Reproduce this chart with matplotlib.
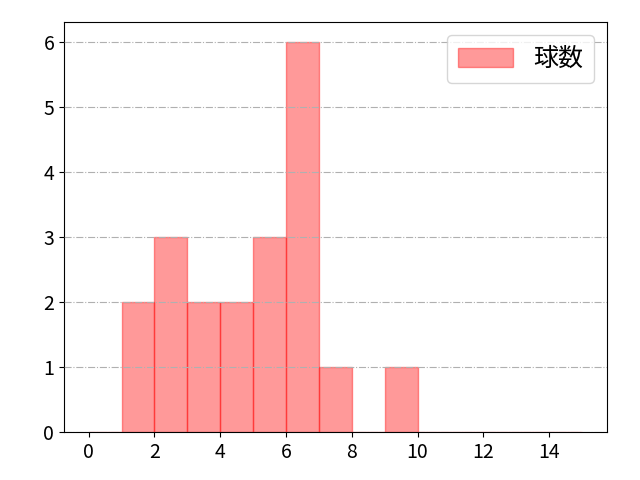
import matplotlib
matplotlib.use("Agg")
import matplotlib.pyplot as plt

plt.rcParams['font.family'] = ['Noto Sans CJK JP', 'DejaVu Sans']

bin_edges = list(range(0, 16))
counts = [0, 2, 3, 2, 2, 3, 6, 1, 0, 1, 0, 0, 0, 0, 0]
label = "球数"

fig, ax = plt.subplots(figsize=(6.4, 4.8), dpi=100)
fig.subplots_adjust(left=0.1, right=0.948, top=0.954, bottom=0.1)
ax.hist(bin_edges[:-1], bins=bin_edges, weights=counts, color="red", alpha=0.4,
        edgecolor="red", label=label)
ax.grid(axis="y", linestyle="-.", color="#b0b0b0")
ax.set_axisbelow(False)
ax.set_xticks([0, 2, 4, 6, 8, 10, 12, 14])
ax.tick_params(labelsize=14)
ax.legend(fontsize=18, handlelength=2.2, handleheight=0.8, borderpad=0.45)
fig.savefig("out.png")
